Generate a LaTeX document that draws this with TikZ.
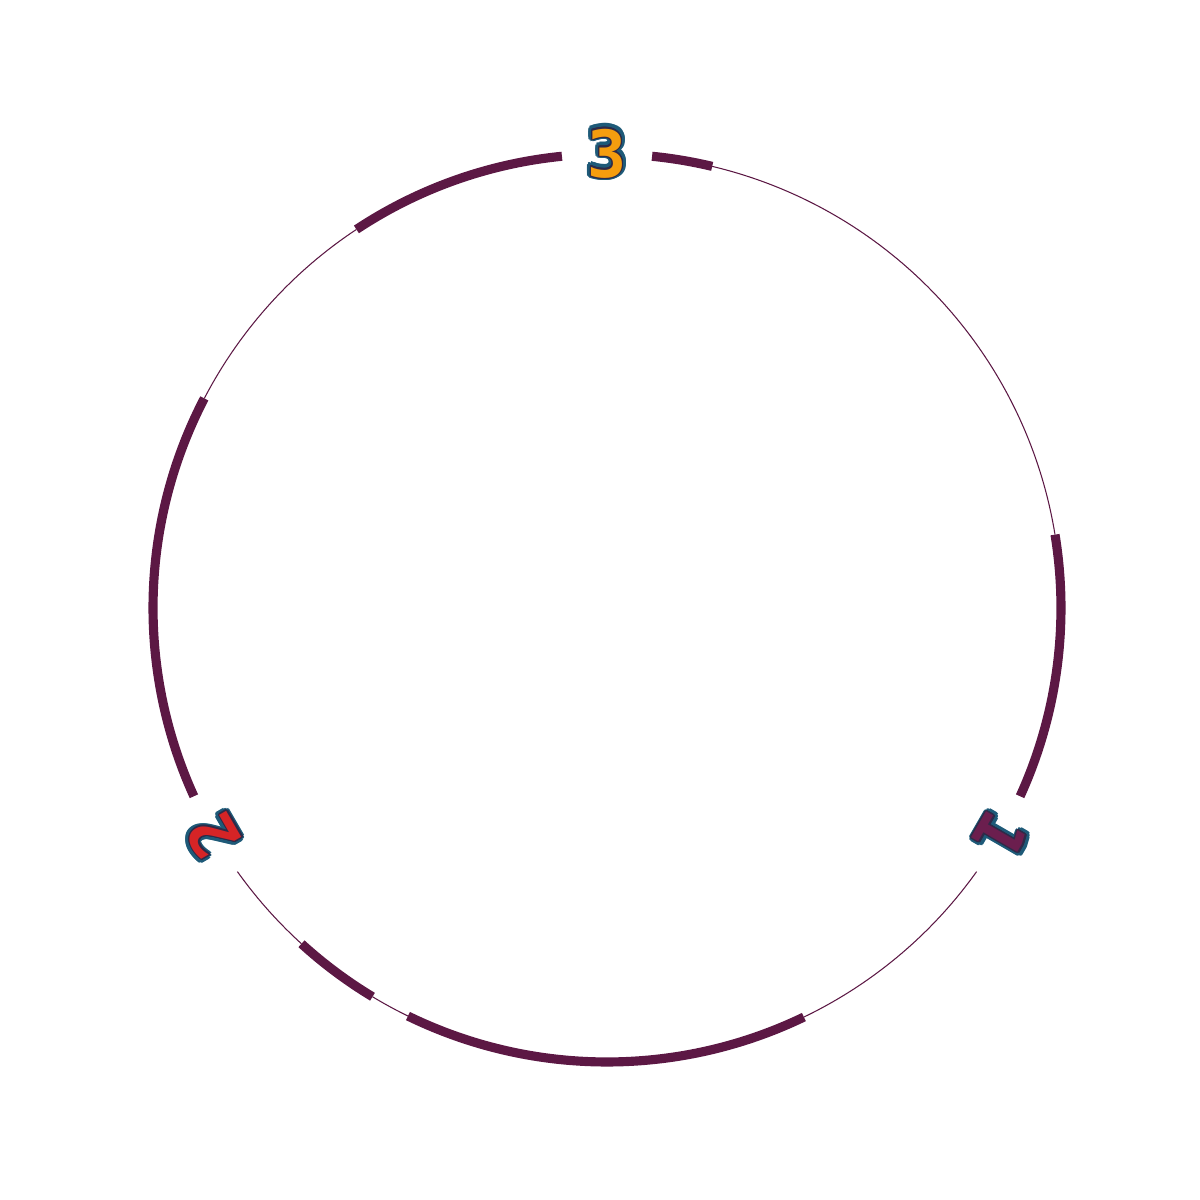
\documentclass[tikz,border=0pt]{standalone}
\usepackage{fontspec}
\setmonofont{DejaVu Sans Mono}
\usepackage{contour}
\definecolor{arccol}{HTML}{5C1844}
\definecolor{outl}{HTML}{1E5A78}
\definecolor{innerd}{HTML}{2E2A48}
\definecolor{orangeL}{HTML}{F59D0E}
\definecolor{redL}{HTML}{D62426}
\definecolor{purpL}{HTML}{6B1E4E}
\begin{document}
\begin{tikzpicture}[x=1cm,y=1cm,
  thinarc/.style={draw=arccol,line width=0.3pt},
  thickarc/.style={draw=arccol,line width=2.6pt},
  lblfont/.style={font=\ttfamily\bfseries\fontsize{18.5}{18.5}\selectfont,inner sep=0pt},
  lblback/.style={lblfont,text=outl}]
\useasboundingbox (0,0) rectangle (12,12);
\coordinate (C) at (6.07,5.92);
\def\R{4.54}
% thin arcs
\draw[thinarc] ([shift={(9.3:\R)}]C) arc[start angle=9.3,end angle=76.6,radius=\R];
\draw[thinarc] ([shift={(123.5:\R)}]C) arc[start angle=123.5,end angle=152.5,radius=\R];
\draw[thinarc] ([shift={(215.5:\R)}]C) arc[start angle=215.5,end angle=227.7,radius=\R];
\draw[thinarc] ([shift={(238.9:\R)}]C) arc[start angle=238.9,end angle=244.0,radius=\R];
\draw[thinarc] ([shift={(295.7:\R)}]C) arc[start angle=295.7,end angle=324.5,radius=\R];
% thick arcs
\draw[thickarc] ([shift={(76.6:\R)}]C) arc[start angle=76.6,end angle=84.3,radius=\R];
\draw[thickarc] ([shift={(95.7:\R)}]C) arc[start angle=95.7,end angle=123.5,radius=\R];
\draw[thickarc] ([shift={(152.5:\R)}]C) arc[start angle=152.5,end angle=204.5,radius=\R];
\draw[thickarc] ([shift={(227.7:\R)}]C) arc[start angle=227.7,end angle=238.9,radius=\R];
\draw[thickarc] ([shift={(244.0:\R)}]C) arc[start angle=244.0,end angle=295.7,radius=\R];
\draw[thickarc] ([shift={(335.5:\R)}]C) arc[start angle=335.5,end angle=369.3,radius=\R];
% labels
\node[lblback,rotate=0] (l3o) at ([shift={(90:\R)}]C) {\contourlength{1.1pt}\contour{outl}{3}};
\node[lblfont,rotate=0,text=orangeL] (l3) at ([shift={(90:\R)}]C) {\contourlength{0.35pt}\contour{innerd}{3}};
\node[lblback,rotate=120] (l2o) at ([shift={(210:\R)}]C) {\contourlength{1.1pt}\contour{outl}{2}};
\node[lblfont,rotate=120,text=redL] (l2) at ([shift={(210:\R)}]C) {\contourlength{0.35pt}\contour{innerd}{2}};
\node[lblback,rotate=240] (l1o) at ([shift={(330:\R)}]C) {\contourlength{1.1pt}\contour{outl}{1}};
\node[lblfont,rotate=240,text=purpL] (l1) at ([shift={(330:\R)}]C) {\contourlength{0.35pt}\contour{innerd}{1}};
\end{tikzpicture}
\end{document}
